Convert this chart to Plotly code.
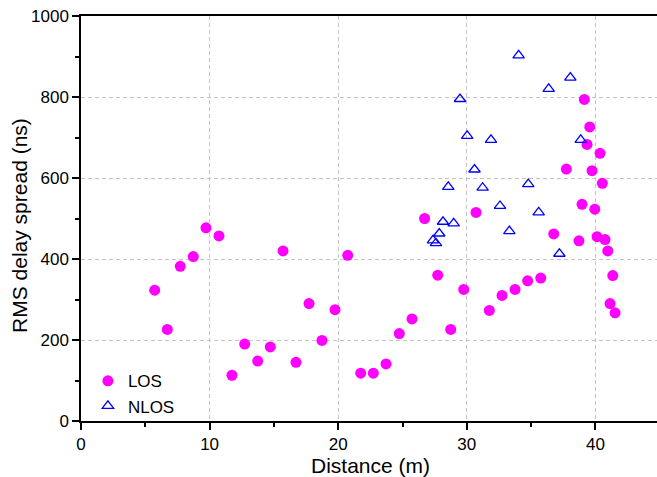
import plotly.graph_objects as go

los_x = [5.73, 6.71, 7.72, 8.73, 9.72, 10.73, 11.74, 12.73, 13.74, 14.72, 15.71, 16.72,
         17.73, 18.74, 19.75, 20.74, 21.75, 22.73, 23.72, 24.75, 25.74, 26.72, 27.74, 28.75,
         29.76, 30.72, 31.75, 32.74, 33.75, 34.73, 35.75, 36.76, 37.74, 38.72, 38.96, 39.14,
         39.35, 39.56, 39.74, 39.95, 40.13, 40.36, 40.54, 40.75, 40.96, 41.14, 41.35, 41.53]
los_y = [323, 226, 382, 406, 477, 457, 113, 190, 148, 183, 420, 145,
         290, 199, 275, 409, 118, 118, 141, 216, 252, 500, 360, 226,
         325, 515, 273, 310, 325, 346, 353, 462, 622, 445, 535, 794,
         683, 726, 618, 523, 455, 661, 587, 448, 420, 290, 359, 267]

nlos_x = [27.37, 27.6, 27.86, 28.15, 28.56, 28.98, 29.47, 30.03, 30.6, 31.23, 31.88, 32.58,
          33.31, 34.03, 34.78, 35.59, 36.37, 37.2, 38.05, 38.86]
nlos_y = [446, 439, 463, 492, 578, 488, 795, 704, 621, 576, 694, 531,
          469, 903, 585, 515, 820, 413, 848, 694]

x_ticks = [0, 10, 20, 30, 40]
y_ticks = [0, 200, 400, 600, 800, 1000]
x_title = "Distance (m)"
y_title = "RMS delay spread (ns)"

FONT = "Liberation Sans, Arial, sans-serif"

fig = go.Figure()
fig.add_trace(go.Scatter(x=los_x, y=los_y, mode="markers", name="LOS",
                         marker=dict(symbol="circle", size=11, color="#FF00FF",
                                     line=dict(width=0))))
fig.add_trace(go.Scatter(x=nlos_x, y=nlos_y, mode="markers", name="NLOS",
                         marker=dict(symbol="triangle-up-open", size=10, color="#0000FF",
                                     line=dict(width=1.3, color="#0000FF"))))

axis_common = dict(
    showline=True, linecolor="black", linewidth=1.5,
    ticks="outside", ticklen=7, tickwidth=1.5, tickcolor="black",
    showgrid=True, gridcolor="#c4c4c4", gridwidth=1, griddash="4px,3px",
    zeroline=False,
    tickfont=dict(family=FONT, size=17, color="black"),
)

fig.update_xaxes(**axis_common, range=[0, 44.79], tickvals=x_ticks, mirror=True,
                 minor=dict(ticks="outside", ticklen=4, tickwidth=1.5, tickcolor="black",
                            dtick=5, tick0=0, showgrid=False))
fig.update_yaxes(**axis_common, range=[0, 1000], tickvals=y_ticks,
                 minor=dict(ticks="outside", ticklen=4, tickwidth=1.5, tickcolor="black",
                            dtick=100, tick0=0, showgrid=False))

fig.add_annotation(text=x_title, xref="paper", yref="paper", x=0.503, y=-0.109,
                   xanchor="center", yanchor="middle", showarrow=False,
                   font=dict(family=FONT, size=21, color="black"))
fig.add_annotation(text=y_title, xref="paper", yref="paper", x=-0.106, y=0.484,
                   xanchor="center", yanchor="middle", showarrow=False, textangle=-90,
                   font=dict(family=FONT, size=21, color="black"))

fig.update_layout(
    width=657, height=477,
    margin=dict(l=81, r=0, t=16, b=56),
    plot_bgcolor="white", paper_bgcolor="white",
    showlegend=True,
    legend=dict(x=0.012, y=-0.008, xanchor="left", yanchor="bottom",
                bgcolor="rgba(0,0,0,0)", font=dict(family=FONT, size=17, color="black"),
                tracegroupgap=0),
)

fig.write_html("out.html")
